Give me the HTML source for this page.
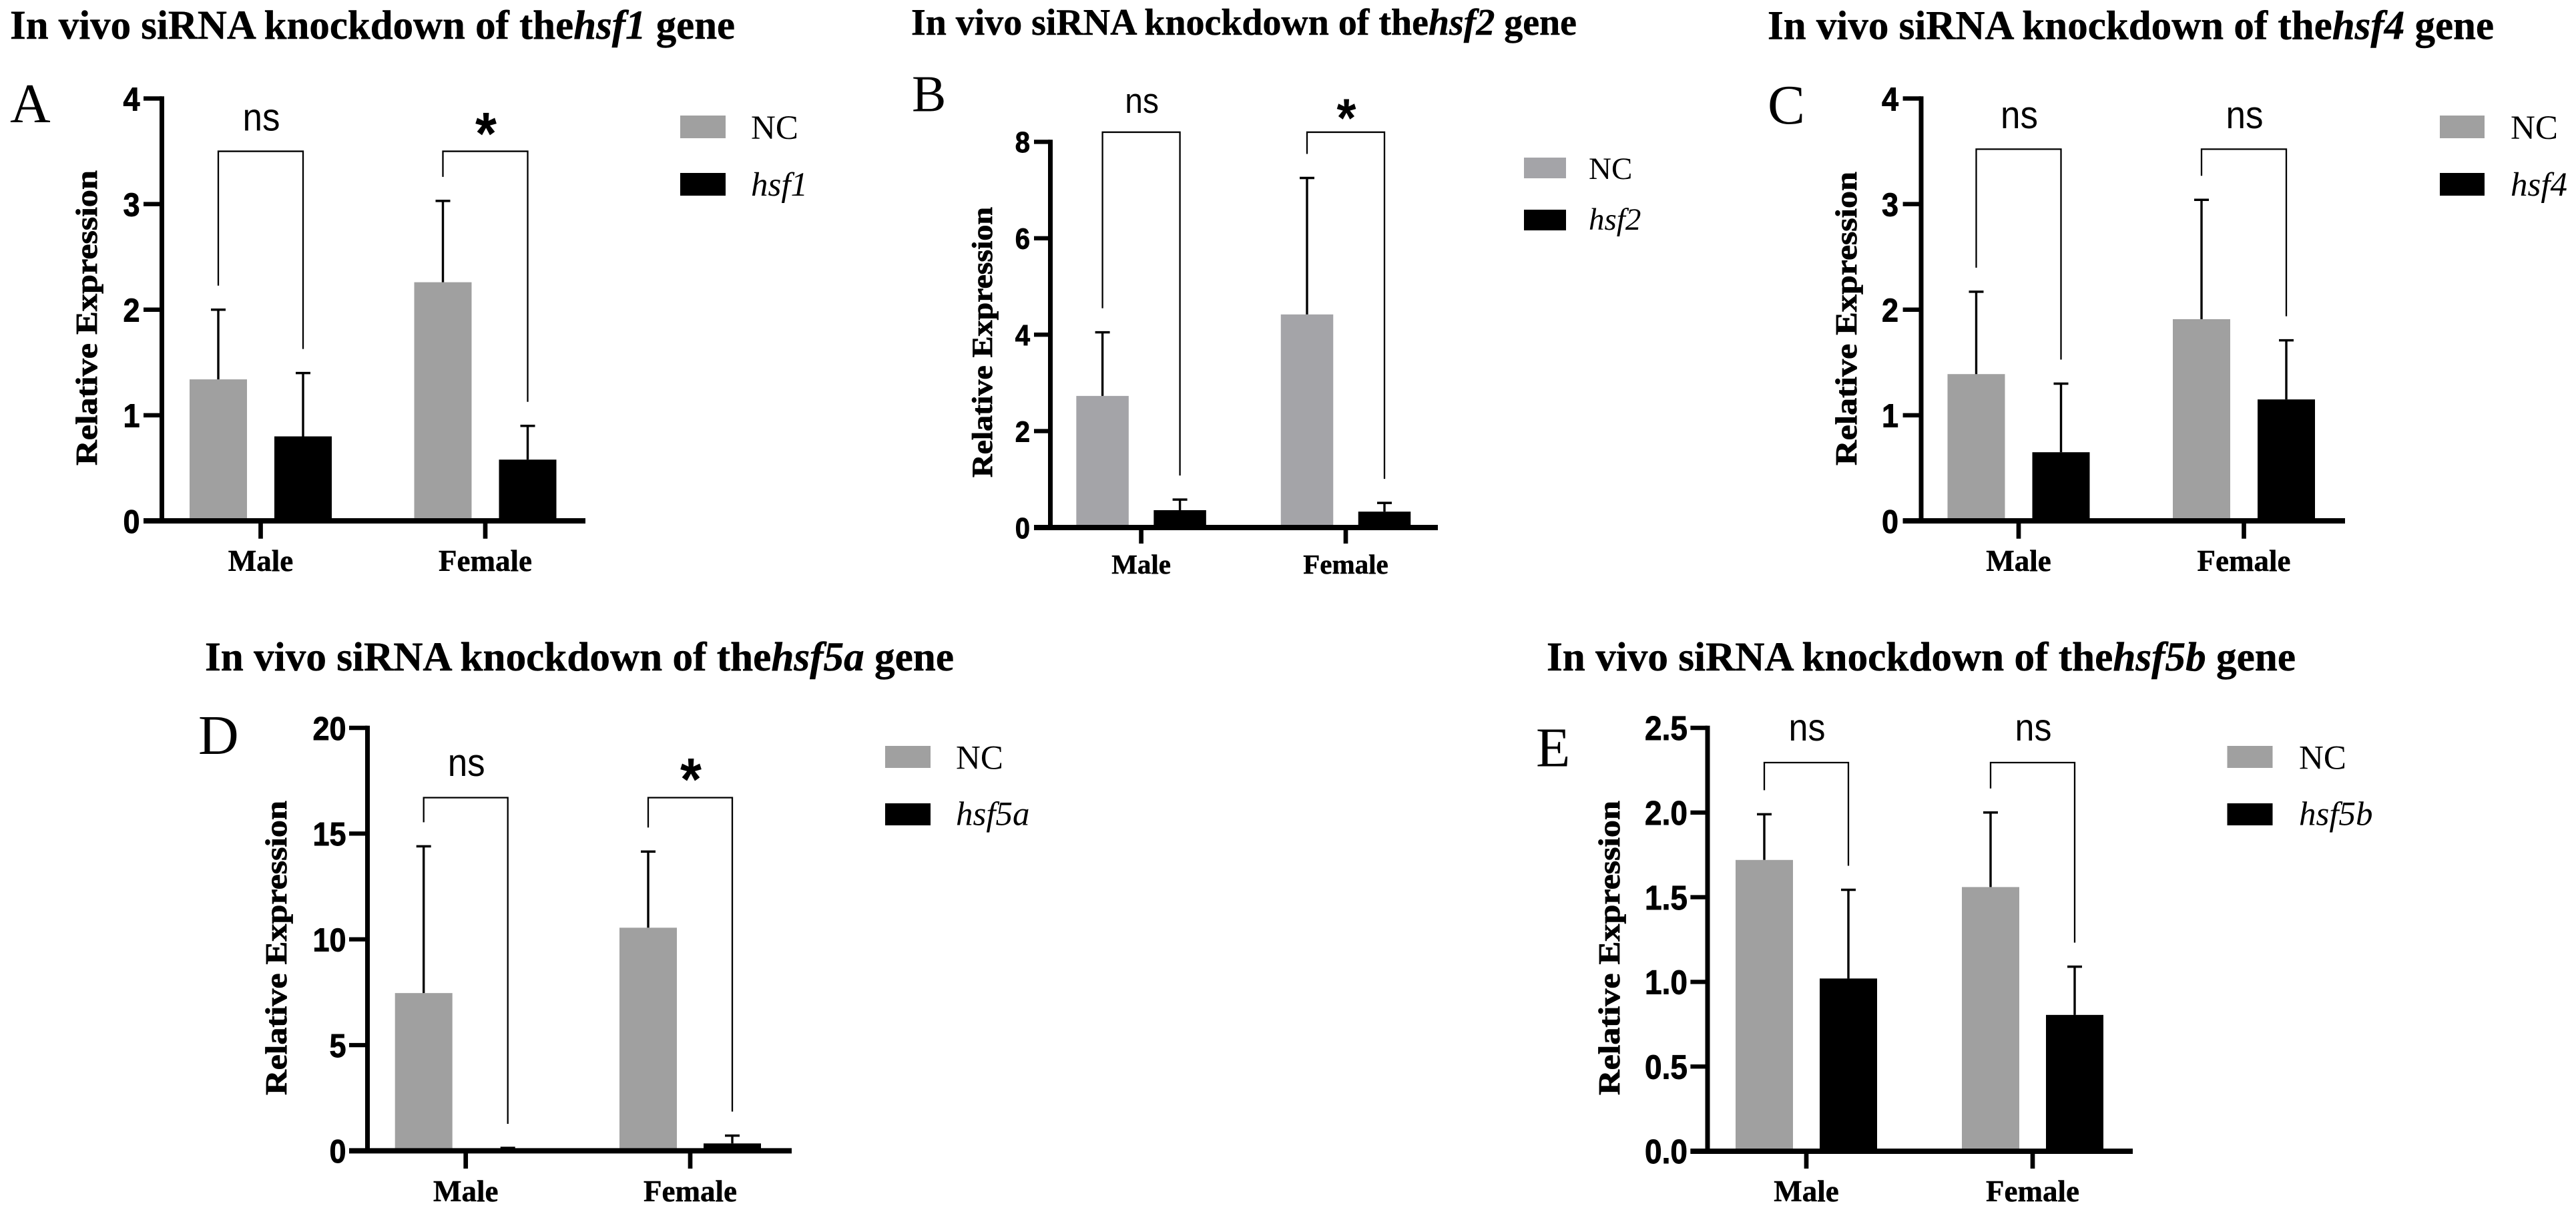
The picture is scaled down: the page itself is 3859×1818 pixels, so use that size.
<!DOCTYPE html>
<html lang="en">
<head>
<meta charset="utf-8">
<title>In vivo siRNA knockdown of hsf genes</title>
<style>
html,body{margin:0;padding:0;background:#fff;}
svg{display:block;}
text{fill:#000;}
</style>
</head>
<body>
<svg id="figure" xmlns="http://www.w3.org/2000/svg" width="3859" height="1818" viewBox="0 0 3859 1818"></svg>
<script>
// ---- chart data ----
const categories = ['Male', 'Female'];
const controlName = 'NC';
const geneNames = ['hsf1', 'hsf2', 'hsf4', 'hsf5a', 'hsf5b'];
const panelLetters = ['A', 'B', 'C', 'D', 'E'];
const yAxisTitle = 'Relative Expression';

const tickLabelsHsf1 = ['0', '1', '2', '3', '4'];
const tickLabelsHsf2 = ['0', '2', '4', '6', '8'];
const tickLabelsHsf4 = ['0', '1', '2', '3', '4'];
const tickLabelsHsf5a = ['0', '5', '10', '15', '20'];
const tickLabelsHsf5b = ['0.0', '0.5', '1.0', '1.5', '2.0', '2.5'];

const controlHsf1 = [1.34, 2.26];
const knockdownHsf1 = [0.80, 0.58];
const controlErrHsf1 = [0.66, 0.77];
const knockdownErrHsf1 = [0.60, 0.32];

const controlHsf2 = [2.73, 4.42];
const knockdownHsf2 = [0.36, 0.33];
const controlErrHsf2 = [1.32, 2.83];
const knockdownErrHsf2 = [0.22, 0.18];

const controlHsf4 = [1.39, 1.91];
const knockdownHsf4 = [0.65, 1.15];
const controlErrHsf4 = [0.78, 1.13];
const knockdownErrHsf4 = [0.65, 0.56];

const controlHsf5a = [7.46, 10.55];
const knockdownHsf5a = [0.06, 0.35];
const controlErrHsf5a = [6.94, 3.60];
const knockdownErrHsf5a = [0.08, 0.37];

const controlHsf5b = [1.72, 1.56];
const knockdownHsf5b = [1.02, 0.805];
const controlErrHsf5b = [0.27, 0.44];
const knockdownErrHsf5b = [0.524, 0.285];

const significanceHsf1 = ['ns', '*'];
const significanceHsf2 = ['ns', '*'];
const significanceHsf4 = ['ns', 'ns'];
const significanceHsf5a = ['ns', '*'];
const significanceHsf5b = ['ns', 'ns'];

const bracketLevelHsf1 = 3.5;
const bracketLevelHsf2 = 8.2;
const bracketLevelHsf4 = 3.52;
const bracketLevelHsf5a = 16.7;
const bracketLevelHsf5b = 2.295;

// ---- panel wiring ----
const seriesByPanel = [
  {ticks: tickLabelsHsf1, nc: controlHsf1, kd: knockdownHsf1, ncErr: controlErrHsf1, kdErr: knockdownErrHsf1, sig: significanceHsf1, level: bracketLevelHsf1},
  {ticks: tickLabelsHsf2, nc: controlHsf2, kd: knockdownHsf2, ncErr: controlErrHsf2, kdErr: knockdownErrHsf2, sig: significanceHsf2, level: bracketLevelHsf2},
  {ticks: tickLabelsHsf4, nc: controlHsf4, kd: knockdownHsf4, ncErr: controlErrHsf4, kdErr: knockdownErrHsf4, sig: significanceHsf4, level: bracketLevelHsf4},
  {ticks: tickLabelsHsf5a, nc: controlHsf5a, kd: knockdownHsf5a, ncErr: controlErrHsf5a, kdErr: knockdownErrHsf5a, sig: significanceHsf5a, level: bracketLevelHsf5a},
  {ticks: tickLabelsHsf5b, nc: controlHsf5b, kd: knockdownHsf5b, ncErr: controlErrHsf5b, kdErr: knockdownErrHsf5b, sig: significanceHsf5b, level: bracketLevelHsf5b}
];

// ---- layout (pixels, separate from data) ----
const layouts = [
  {axisX: 242.5, left: 215, right: 877, top: 147.5, bottom: 780, tickEnd: 806.7, groups: [390.5, 727], off: 63.5, barW: 86, gray: '#a0a0a0',
   titleX: 15, titleY: 58, titleSize: 60.9, letterX: 15, letterY: 183, letterSize: 84,
   yTitleX: 145, yTitleEnd: 697, yTitleLen: 442, yTitleSize: 46, tickRight: 209.5, tickSize: 45, catY: 855, catSize: 45,
   sigSize: 53, nsY: 195.5, starY: 231, swatchX: 1019, swatchW: 68, swatchY: [173, 259], swatchH: 34, legendX: 1125, legendY: [208, 293], legendSize: 51},
  {axisX: 1573.5, left: 1549, right: 2154, top: 212.4, bottom: 790, tickEnd: 814, groups: [1709.6, 2016], off: 58, barW: 78.5, gray: '#a4a4a8',
   titleX: 1365, titleY: 52, titleSize: 55.9, letterX: 1366, letterY: 166.5, letterSize: 77,
   yTitleX: 1486, yTitleEnd: 715, yTitleLen: 405, yTitleSize: 43, tickRight: 1543, tickSize: 40, catY: 859, catSize: 41,
   sigSize: 48, nsY: 169, starY: 205, swatchX: 2283, swatchW: 63, swatchY: [236, 314], swatchH: 31, legendX: 2380, legendY: [268, 344], legendSize: 47},
  {axisX: 2878, left: 2850.6, right: 3513, top: 147.5, bottom: 780, tickEnd: 806.7, groups: [3024, 3361.5], off: 63.5, barW: 86, gray: '#a0a0a0',
   titleX: 2648, titleY: 58.5, titleSize: 61, letterX: 2648, letterY: 185, letterSize: 84,
   yTitleX: 2781, yTitleEnd: 697, yTitleLen: 440, yTitleSize: 46, tickRight: 2844, tickSize: 45, catY: 855, catSize: 45,
   sigSize: 53, nsY: 192, starY: 228, swatchX: 3655, swatchW: 67, swatchY: [173, 259], swatchH: 34, legendX: 3761, legendY: [208, 293], legendSize: 51},
  {axisX: 550.5, left: 523, right: 1186, top: 1090, bottom: 1723.4, tickEnd: 1750, groups: [697.7, 1034], off: 63, barW: 86, gray: '#a0a0a0',
   titleX: 307, titleY: 1004, titleSize: 61.2, letterX: 297, letterY: 1129, letterSize: 84,
   yTitleX: 429, yTitleEnd: 1640, yTitleLen: 441, yTitleSize: 46, tickRight: 518.5, tickSize: 45, catY: 1799, catSize: 45,
   sigSize: 53, nsY: 1162, starY: 1198, swatchX: 1326, swatchW: 68, swatchY: [1117, 1203], swatchH: 33, legendX: 1432, legendY: [1151.5, 1235.5], legendSize: 51},
  {axisX: 2558, left: 2532.4, right: 3195, top: 1090, bottom: 1724, tickEnd: 1750, groups: [2706, 3045], off: 63, barW: 86, gray: '#a0a0a0',
   titleX: 2317, titleY: 1004, titleSize: 61.2, letterX: 2301, letterY: 1147.5, letterSize: 84,
   yTitleX: 2426, yTitleEnd: 1640, yTitleLen: 441, yTitleSize: 46, tickRight: 2528, tickSize: 46, catY: 1799, catSize: 45,
   sigSize: 52, nsY: 1109, starY: 1145, swatchX: 3336.5, swatchW: 68, swatchY: [1117, 1203], swatchH: 33, legendX: 3444, legendY: [1151.5, 1235.5], legendSize: 51}
];

const SVGNS = 'http://www.w3.org/2000/svg';
const SERIF = '"Liberation Serif", serif';
const SANS = '"Liberation Sans", sans-serif';
const STRETCH = 1.1;
const BRACKET_GAP = 36;

function make(parent, tag, attrs, content) {
  const node = document.createElementNS(SVGNS, tag);
  for (const key in attrs) node.setAttribute(key, attrs[key]);
  if (content !== undefined) node.textContent = content;
  parent.appendChild(node);
  return node;
}

function yScale(layout, ticks) {
  const max = parseFloat(ticks[ticks.length - 1]);
  return function (v) { return layout.bottom - (v / max) * (layout.bottom - layout.top); };
}

function xBar(layout, groupIndex, seriesIndex) {
  return layout.groups[groupIndex] + (seriesIndex === 0 ? -layout.off : layout.off);
}

function drawPanel(root, index) {
  const L = layouts[index];
  const S = seriesByPanel[index];
  const gene = geneNames[index];
  const y = yScale(L, S.ticks);

  const panel = make(root, 'g', {});
  
  

  // title
  const title = make(panel, 'text', {x: L.titleX, y: L.titleY, 'font-family': SERIF, 'font-weight': 'bold', 'font-size': L.titleSize, stroke: '#000', 'stroke-width': 0.5});
  
  
  make(title, 'tspan', {}, 'In vivo siRNA knockdown of the');
  make(title, 'tspan', {'font-style': 'italic'}, gene);
  make(title, 'tspan', {}, '\u00a0gene');

  // panel letter
  const letter = make(panel, 'text', {x: L.letterX, y: L.letterY, 'font-family': SERIF, 'font-size': L.letterSize}, panelLetters[index]);
  
  

  // y-axis title
  const yTitle = make(panel, 'text', {
    transform: 'translate(' + L.yTitleX + ',' + L.yTitleEnd + ') rotate(-90)',
    'font-family': SERIF, 'font-weight': 'bold', 'font-size': L.yTitleSize,
    textLength: L.yTitleLen, lengthAdjust: 'spacingAndGlyphs', stroke: '#000', 'stroke-width': 0.8
  }, yAxisTitle);
  
  

  // bars, error bars and brackets
  categories.forEach(function (cat, g) {
    [[S.nc, S.ncErr, L.gray, 'control'], [S.kd, S.kdErr, '#000', 'knockdown']].forEach(function (series, s) {
      const v = series[0][g];
      const e = series[1][g];
      const cx = xBar(L, g, s);
      const key = cat.toLowerCase() + '-' + series[3];

      const bar = make(panel, 'rect', {x: cx - L.barW / 2, y: y(v), width: L.barW, height: L.bottom - y(v), fill: series[2]});
      
      

      const stem = make(panel, 'line', {x1: cx, x2: cx, y1: y(v), y2: y(v + e), stroke: '#000', 'stroke-width': 3.4});
      
      

      const cap = make(panel, 'line', {x1: cx - 11, x2: cx + 11, y1: y(v + e), y2: y(v + e), stroke: '#000', 'stroke-width': 3.5});
      
      
    });

    const xa = xBar(L, g, 0);
    const xb = xBar(L, g, 1);
    const legA = y(S.nc[g] + S.ncErr[g]) - BRACKET_GAP;
    const legB = y(S.kd[g] + S.kdErr[g]) - BRACKET_GAP;
    const by = y(S.level);
    const bracket = make(panel, 'path', {
      d: 'M' + xa + ' ' + legA + 'V' + by + 'H' + xb + 'V' + legB,
      fill: 'none', stroke: '#000', 'stroke-width': 2.3
    });
    
    

    const mark = S.sig[g];
    const isStar = mark === '*';
    const markX = L.groups[g] + 1;
    const markY = isStar ? L.starY : L.nsY;
    const sigLabel = make(panel, 'text', {
      transform: 'translate(' + markX + ',' + markY + ') scale(1,' + STRETCH + ')',
      'text-anchor': 'middle', 'font-family': SANS,
      'font-weight': isStar ? 'bold' : 'normal',
      'font-size': isStar ? L.sigSize * 1.55 : L.sigSize
    }, mark);
    
    

    // x tick and category label
    const xTick = make(panel, 'line', {x1: L.groups[g], x2: L.groups[g], y1: L.bottom, y2: L.tickEnd, stroke: '#000', 'stroke-width': 6.7});
    
    

    const catLabel = make(panel, 'text', {x: L.groups[g], y: L.catY, 'text-anchor': 'middle', 'font-family': SERIF, 'font-weight': 'bold', 'font-size': L.catSize, stroke: '#000', 'stroke-width': 0.5}, cat);
    
    
  });

  // axes
  const yAxis = make(panel, 'line', {x1: L.axisX, x2: L.axisX, y1: L.top - 3.2, y2: L.bottom, stroke: '#000', 'stroke-width': 7});
  
  

  const xAxis = make(panel, 'line', {x1: L.left, x2: L.right, y1: L.bottom, y2: L.bottom, stroke: '#000', 'stroke-width': 8});
  
  

  S.ticks.forEach(function (label) {
    const ty = y(parseFloat(label));
    const tick = make(panel, 'line', {x1: L.left, x2: L.axisX, y1: ty, y2: ty, stroke: '#000', 'stroke-width': 6.4});
    
    

    const tickText = make(panel, 'text', {
      transform: 'translate(' + L.tickRight + ',' + (ty + L.tickSize * 0.36 * STRETCH) + ') scale(1,' + STRETCH + ')',
      'text-anchor': 'end', 'font-family': SANS, 'font-weight': 'bold', 'font-size': L.tickSize, stroke: '#000', 'stroke-width': 0.8
    }, label);
    
    
  });

  // legend
  [[controlName, L.gray, 'normal', 'control'], [gene, '#000', 'italic', 'knockdown']].forEach(function (entry, i) {
    const swatch = make(panel, 'rect', {x: L.swatchX, y: L.swatchY[i], width: L.swatchW, height: L.swatchH, fill: entry[1]});
    
    

    const legendText = make(panel, 'text', {x: L.legendX, y: L.legendY[i], 'font-family': SERIF, 'font-style': entry[2], 'font-size': L.legendSize}, entry[0]);
    
    
  });
}

const figure = document.getElementById('figure');
geneNames.forEach(function (gene, i) { drawPanel(figure, i); });
</script>
</body>
</html>
